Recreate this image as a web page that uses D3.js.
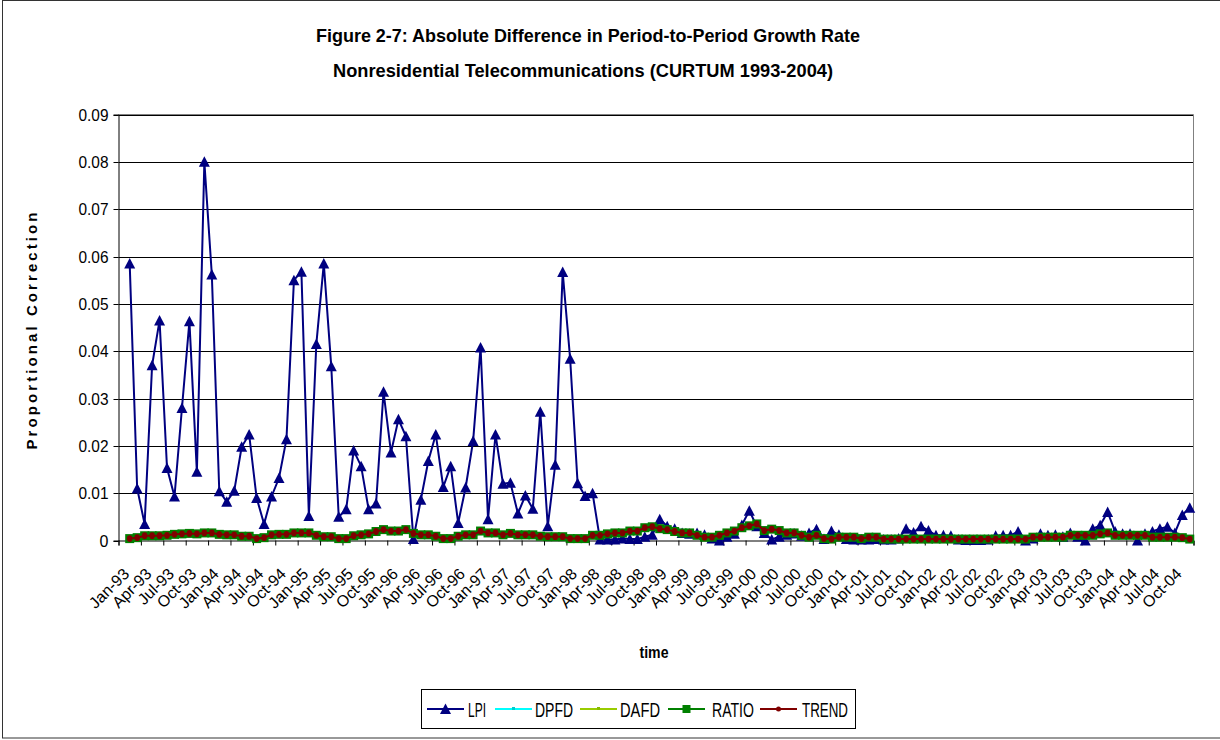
<!DOCTYPE html>
<html><head><meta charset="utf-8">
<script src="https://cdn.jsdelivr.net/npm/d3@7"></script>
<style>
body{margin:0;background:#fff}
svg{display:block}
text{font-family:"Liberation Sans",Arial,Helvetica,sans-serif;fill:#000}
</style>
</head><body>
<svg id="chart" width="1220" height="740"></svg>
<script>
// ---------- data ----------
const yearCodes = ["93","94","95","96","97","98","99","00","01","02","03","04"];
const monthNames = ["Jan","Feb","Mar","Apr","May","Jun","Jul","Aug","Sep","Oct","Nov","Dec"];
const tickLabels = [
 "Jan-93","Apr-93","Jul-93","Oct-93","Jan-94","Apr-94","Jul-94","Oct-94",
 "Jan-95","Apr-95","Jul-95","Oct-95","Jan-96","Apr-96","Jul-96","Oct-96",
 "Jan-97","Apr-97","Jul-97","Oct-97","Jan-98","Apr-98","Jul-98","Oct-98",
 "Jan-99","Apr-99","Jul-99","Oct-99","Jan-00","Apr-00","Jul-00","Oct-00",
 "Jan-01","Apr-01","Jul-01","Oct-01","Jan-02","Apr-02","Jul-02","Oct-02",
 "Jan-03","Apr-03","Jul-03","Oct-03","Jan-04","Apr-04","Jul-04","Oct-04"];
const yTicks = [0,0.01,0.02,0.03,0.04,0.05,0.06,0.07,0.08,0.09];

const lpi = [
 null,0.0585,0.011,0.0035,0.037,0.0465,0.0153,0.0093,0.028,0.0463,0.0145,0.0800,
 0.0562,0.0104,0.0082,0.0105,0.0198,0.0224,0.0090,0.0035,0.0093,0.0132,0.0214,0.0550,
 0.0568,0.0052,0.0415,0.0585,0.0368,0.0050,0.0066,0.0190,0.0157,0.0066,0.0078,0.0314,
 0.0186,0.0256,0.0220,0.0003,0.0086,0.0168,0.0224,0.0113,0.0157,0.0037,0.0112,0.0210,
 0.0408,0.0045,0.0224,0.0120,0.0122,0.0057,0.0095,0.0067,0.0272,0.0030,0.0160,0.0567,
 0.0384,0.0121,0.0094,0.0100,0.0002,0.0002,0.0002,0.0004,0.0003,0.0003,0.0008,0.0012,
 0.0045,0.0030,0.0025,0.0016,0.0014,0.0016,0.0012,0.0004,0.0000,0.0008,0.0014,0.0033,
 0.0063,0.0030,0.0016,0.0002,0.0008,0.0012,0.0015,0.0010,0.0016,0.0024,0.0003,0.0020,
 0.0012,0.0003,0.0002,0.0002,0.0002,0.0003,0.0002,0.0002,0.0004,0.0025,0.0017,0.0030,
 0.0021,0.0011,0.0011,0.0010,0.0002,0.0001,0.0001,0.0001,0.0002,0.0010,0.0011,0.0011,
 0.0019,0.0000,0.0004,0.0014,0.0011,0.0012,0.0008,0.0016,0.0008,0.0000,0.0025,0.0032,
 0.0060,0.0019,0.0014,0.0014,0.0000,0.0014,0.0019,0.0025,0.0029,0.0016,0.0054,0.0069];

const ratio = [
 null,0.0004,0.0006,0.0010,0.0010,0.0010,0.0011,0.0013,0.0014,0.0015,0.0014,0.0016,
 0.0016,0.0013,0.0012,0.0012,0.0009,0.0009,0.0004,0.0006,0.0012,0.0013,0.0013,0.0016,
 0.0016,0.0016,0.0011,0.0008,0.0008,0.0004,0.0004,0.0010,0.0012,0.0014,0.0019,0.0023,
 0.0020,0.0020,0.0023,0.0015,0.0012,0.0012,0.0009,0.0004,0.0004,0.0009,0.0012,0.0012,
 0.0020,0.0016,0.0016,0.0012,0.0015,0.0012,0.0012,0.0012,0.0009,0.0008,0.0008,0.0008,
 0.0004,0.0004,0.0004,0.0011,0.0011,0.0014,0.0016,0.0016,0.0020,0.0020,0.0027,0.0029,
 0.0025,0.0023,0.0019,0.0016,0.0016,0.0011,0.0007,0.0007,0.0011,0.0016,0.0020,0.0027,
 0.0031,0.0035,0.0021,0.0024,0.0021,0.0016,0.0016,0.0011,0.0007,0.0011,0.0004,0.0003,
 0.0007,0.0007,0.0007,0.0004,0.0007,0.0007,0.0003,0.0003,0.0003,0.0003,0.0003,0.0003,
 0.0003,0.0003,0.0003,0.0003,0.0003,0.0003,0.0003,0.0003,0.0003,0.0003,0.0003,0.0003,
 0.0003,0.0003,0.0007,0.0007,0.0007,0.0007,0.0007,0.0011,0.0011,0.0011,0.0011,0.0014,
 0.0016,0.0011,0.0011,0.0011,0.0011,0.0011,0.0007,0.0007,0.0007,0.0007,0.0006,0.0003];

const trend = [
 null,0.0004,0.0006,0.0010,0.0010,0.0010,0.0011,0.0013,0.0014,0.0015,0.0014,0.0016,
 0.0016,0.0013,0.0012,0.0012,0.0009,0.0009,0.0004,0.0006,0.0012,0.0013,0.0013,0.0016,
 0.0016,0.0016,0.0011,0.0008,0.0008,0.0004,0.0004,0.0010,0.0012,0.0014,0.0019,0.0023,
 0.0020,0.0020,0.0023,0.0015,0.0012,0.0012,0.0009,0.0004,0.0004,0.0009,0.0012,0.0012,
 0.0020,0.0016,0.0016,0.0012,0.0015,0.0012,0.0012,0.0012,0.0009,0.0008,0.0008,0.0008,
 0.0004,0.0004,0.0004,0.0011,0.0011,0.0014,0.0016,0.0016,0.0020,0.0020,0.0027,0.0029,
 0.0025,0.0023,0.0019,0.0016,0.0016,0.0011,0.0007,0.0007,0.0011,0.0016,0.0020,0.0027,
 0.0031,0.0035,0.0021,0.0024,0.0021,0.0016,0.0016,0.0011,0.0007,0.0011,0.0004,0.0003,
 0.0007,0.0007,0.0007,0.0004,0.0007,0.0007,0.0003,0.0003,0.0003,0.0003,0.0003,0.0003,
 0.0003,0.0003,0.0003,0.0003,0.0003,0.0003,0.0003,0.0003,0.0003,0.0003,0.0003,0.0003,
 0.0003,0.0003,0.0007,0.0007,0.0007,0.0007,0.0007,0.0011,0.0011,0.0011,0.0011,0.0014,
 0.0016,0.0011,0.0011,0.0011,0.0011,0.0011,0.0007,0.0007,0.0007,0.0007,0.0006,0.0003];

// DPFD and DAFD lie underneath RATIO in the picture
const dpfd = ratio;
const dafd = ratio;

const seriesNames = ["LPI","DPFD","DAFD","RATIO","TREND"];
const seriesColors = ["#000080","#00FFFF","#99CC00","#008000","#800000"];

// ---------- build ----------
const categories = [];
yearCodes.forEach(y => monthNames.forEach(m => categories.push(m + "-" + y)));

const svg = d3.select("#chart");
const L = 118.5, R = 1193.5, T = 114.5, B = 540.5;

// outer border
svg.append("rect").attr("x",2.5).attr("y",0.5).attr("width",1240).attr("height",737.5)
  .attr("fill","#fff").attr("stroke","#333").attr("stroke-width",1);

const x = d3.scaleBand().domain(categories).range([L, R]).padding(0);
const bw = x.bandwidth();
const cx = c => x(c) + bw / 2;
const xi = d3.scaleLinear().domain([0, categories.length]).range([L, R]);
const y = d3.scaleLinear().domain([0, 0.09]).range([B, T]);

// gridlines
svg.append("g").selectAll("line").data(yTicks.filter(d => d > 0)).join("line")
  .attr("x1", L).attr("x2", R)
  .attr("y1", d => Math.round(y(d)) + 0.5).attr("y2", d => Math.round(y(d)) + 0.5)
  .attr("stroke", "#000").attr("stroke-width", 1);

// plot area border (top/right)
svg.append("path").attr("d", `M${L},${T}H${R}V${B}`).attr("fill","none")
  .attr("stroke","#808080").attr("stroke-width",1);

// y axis
const yAxis = svg.append("g").attr("transform", `translate(${L},0)`)
  .call(d3.axisLeft(y).tickValues(yTicks).tickSize(5).tickPadding(5)
    .tickFormat(d => d === 0 ? "0" : d3.format(".2f")(d)));
yAxis.select(".domain").attr("stroke","#000");
yAxis.selectAll(".tick line").attr("stroke","#000");
yAxis.selectAll(".tick").attr("transform", d => `translate(0,${Math.round(y(d)) + 0.5})`);
yAxis.selectAll("text").attr("font-size","16px").attr("font-family","Liberation Sans, Arial, sans-serif").attr("fill","#000")
  .each(function(d){ if (d !== 0) d3.select(this).attr("textLength", 30).attr("lengthAdjust","spacingAndGlyphs"); });

// x axis
const xAxis = svg.append("g").attr("transform", `translate(0,${B})`)
  .call(d3.axisBottom(xi).tickValues(d3.range(0, categories.length + 1, 3)).tickSize(5).tickFormat(""));
xAxis.select(".domain").attr("stroke","#000");
xAxis.selectAll(".tick line").attr("stroke","#000");

svg.append("g").selectAll("text").data(tickLabels).join("text")
  .attr("transform", d => `translate(${cx(d) + 4},${571}) rotate(-45)`)
  .attr("text-anchor","end").attr("dy","0.35em")
  .attr("font-size","16px")
  .text(d => d);

// axis titles
svg.append("text").attr("transform","translate(37,331) rotate(-90)")
  .attr("text-anchor","middle").attr("font-size","15px").attr("font-weight","bold")
  .attr("textLength",237).attr("lengthAdjust","spacing")
  .text("Proportional Correction");
svg.append("text").attr("x",654).attr("y",658).attr("text-anchor","middle")
  .attr("font-size","16px").attr("font-weight","bold")
  .attr("textLength",29).attr("lengthAdjust","spacingAndGlyphs")
  .text("time");

// title
svg.append("text").attr("x",588).attr("y",42).attr("text-anchor","middle")
  .attr("font-size","19px").attr("font-weight","bold")
  .attr("textLength",544).attr("lengthAdjust","spacingAndGlyphs")
  .text("Figure 2-7: Absolute Difference in Period-to-Period Growth Rate");
svg.append("text").attr("x",583).attr("y",77).attr("text-anchor","middle")
  .attr("font-size","19px").attr("font-weight","bold")
  .attr("textLength",500).attr("lengthAdjust","spacingAndGlyphs")
  .text("Nonresidential Telecommunications (CURTUM 1993-2004)");

// series
const toPts = arr => arr.map((v, i) => ({c: categories[i], v})).filter(d => d.v !== null);
const line = d3.line().x(d => cx(d.c)).y(d => y(d.v));
const triPath = "M0,-5.5L5.5,5L-5.5,5Z";

const gData = svg.append("g");
// LPI
gData.append("path").datum(toPts(lpi)).attr("d", line).attr("fill","none")
  .attr("stroke", seriesColors[0]).attr("stroke-width", 2);
gData.append("g").selectAll("path").data(toPts(lpi)).join("path")
  .attr("d", triPath).attr("transform", d => `translate(${cx(d.c)},${y(d.v)})`)
  .attr("fill", seriesColors[0]);
// DPFD, DAFD
[dpfd, dafd].forEach((arr, k) => {
  gData.append("path").datum(toPts(arr)).attr("d", line).attr("fill","none")
    .attr("stroke", seriesColors[1 + k]).attr("stroke-width", 2);
});
// RATIO
gData.append("path").datum(toPts(ratio)).attr("d", line).attr("fill","none")
  .attr("stroke", seriesColors[3]).attr("stroke-width", 2);
gData.append("g").selectAll("rect").data(toPts(ratio)).join("rect")
  .attr("x", d => cx(d.c) - 4.5).attr("y", d => y(d.v) - 4.5)
  .attr("width", 9).attr("height", 9).attr("fill", seriesColors[3]);
// TREND
gData.append("path").datum(toPts(trend)).attr("d", line).attr("fill","none")
  .attr("stroke", seriesColors[4]).attr("stroke-width", 2);
gData.append("g").selectAll("ellipse").data(toPts(trend)).join("ellipse")
  .attr("cx", d => cx(d.c)).attr("cy", d => y(d.v))
  .attr("rx", 2.8).attr("ry", 3.4).attr("fill", seriesColors[4]);

// legend
const lg = svg.append("g");
lg.append("rect").attr("x",421.5).attr("y",689.5).attr("width",434).attr("height",39)
  .attr("fill","#fff").attr("stroke","#000").attr("stroke-width",1);
const legendLineX = [427, 495, 580, 668, 760];
const legendTextX = [468, 535, 620, 712, 802];
const legendTextW = [18, 38, 40, 42, 46];
const ly = 709;
seriesNames.forEach((name, k) => {
  const x0 = legendLineX[k], mx = x0 + 18.5;
  lg.append("line").attr("x1", x0).attr("x2", x0 + 37).attr("y1", ly).attr("y2", ly)
    .attr("stroke", seriesColors[k]).attr("stroke-width", 2);
  if (k === 0) lg.append("path").attr("d", triPath).attr("transform", `translate(${mx},${ly})`).attr("fill", seriesColors[0]);
  if (k === 1 || k === 2) lg.append("rect").attr("x", mx - 1.5).attr("y", ly - 2).attr("width", 3).attr("height", 3)
    .attr("fill", k === 1 ? "#00CCCC" : "#88BB00");
  if (k === 3) lg.append("rect").attr("x", mx - 4).attr("y", ly - 4).attr("width", 8).attr("height", 8).attr("fill", seriesColors[3]);
  if (k === 4) lg.append("circle").attr("cx", mx).attr("cy", ly).attr("r", 2.5).attr("fill", seriesColors[4]);
  lg.append("text").attr("x", legendTextX[k]).attr("y", 716.5)
    .attr("font-size","20px").attr("textLength", legendTextW[k]).attr("lengthAdjust","spacingAndGlyphs")
    .text(name);
});
</script>
</body></html>
